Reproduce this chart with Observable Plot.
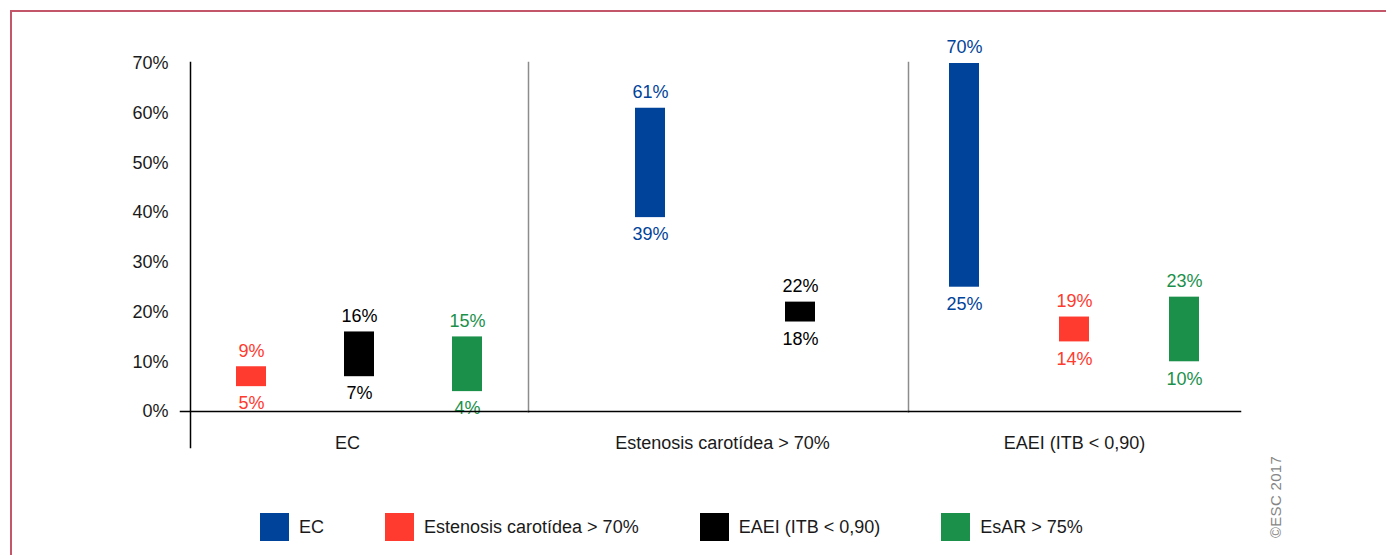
<!DOCTYPE html>
<html>
<head>
<meta charset="utf-8">
<script src="https://cdn.jsdelivr.net/npm/d3@7"></script>
<script src="https://cdn.jsdelivr.net/npm/@observablehq/plot@0.6"></script>
<style>
  body { margin: 0; background: #fff; }
  #wrap { position: relative; width: 1386px; height: 555px; overflow: hidden;
    font-family: "Liberation Sans", Arial, sans-serif; color: #1a1a1a; }
  #border { position: absolute; left: 10px; top: 10px; width: 1400px; height: 600px;
    border-top: 2px solid #c4566a; border-left: 2px solid #c4566a; }
  .panel { position: absolute; top: 0; }
  #legend { position: absolute; top: 513px; left: 260px; display: flex; align-items: center; gap: 61px; font-size: 18px; }
  .item { display: flex; align-items: center; }
  .sw { width: 29px; height: 28px; margin-right: 10px; }
  #copy { position: absolute; left: 1275px; top: 497px; transform: translate(-50%, -50%) rotate(-90deg);
    white-space: nowrap; font-size: 15px; color: #858585; letter-spacing: 0.3px; }
</style>
</head>
<body>
<div id="wrap">
  <div id="border"></div>
  <div id="legend"></div>
  <div id="copy">©ESC 2017</div>
</div>
<script>
// ---- data ----
const groups = ["EC", "Estenosis carotídea > 70%", "EAEI (ITB < 0,90)"];
const series = ["EC", "Estenosis carotídea > 70%", "EAEI (ITB < 0,90)", "EsAR > 75%"];
const colors = ["#00439a", "#ff3a2e", "#000000", "#1a904a"];
// ranges per group, one entry per series (null = not shown)
const lowEC   = [null, 5, 7, 4];
const highEC  = [null, 9, 16, 15];
const lowEst  = [39, null, 18, null];
const highEst = [61, null, 22, null];
const lowEAEI = [25, 14, null, 10];
const highEAEI= [70, 19, null, 23];
const yTicks = [0, 10, 20, 30, 40, 50, 60, 70];

const lows = [lowEC, lowEst, lowEAEI];
const highs = [highEC, highEst, highEAEI];

// ---- layout of the three panels ----
const layouts = [
  {left: 0,   width: 528, marginLeft: 190, paddingInner: 0.7235, paddingOuter: 0.42,  align: 0.5,   labelDx: -12},
  {left: 528, width: 380, marginLeft: 0,   paddingInner: 0.8013, paddingOuter: 0.659, align: 0.533, labelDx: 4},
  {left: 908, width: 332, marginLeft: 0,   paddingInner: 0.7285, paddingOuter: 0.3665, align: 0.5,  labelDx: 0}
];

const FONT = '"Liberation Sans", Arial, sans-serif';
const wrap = document.getElementById("wrap");
const colorScale = {domain: series, range: colors};

groups.forEach((g, gi) => {
  const rows = series.map((s, si) => ({series: s, low: lows[gi][si], high: highs[gi][si]}))
                     .filter(d => d.low != null);
  const L = layouts[gi];
  const first = gi === 0;
  const marks = [
    Plot.barY(rows, {x: "series", y1: "low", y2: "high", fill: "series"}),
    Plot.text(rows, {x: "series", y: "high", text: d => d.high + "%", dy: -16, fill: "series"}),
    Plot.text(rows, {x: "series", y: "low", text: d => d.low + "%", dy: 17, fill: "series"}),
    Plot.text([g], {frameAnchor: "bottom", lineAnchor: "middle", dy: 32, dx: L.labelDx, text: d => d, fill: "#1a1a1a"})
  ];
  if (first) {
    marks.push(Plot.frame({anchor: "left", stroke: "#000", strokeWidth: 1.5, insetTop: -1, insetBottom: -36}));
    marks.push(Plot.frame({anchor: "bottom", stroke: "#000", strokeWidth: 1.5, insetLeft: -10}));
  } else {
    marks.push(Plot.frame({anchor: "left", stroke: "#8c8c8c", strokeWidth: 1.5, insetTop: -1}));
    marks.push(Plot.frame({anchor: "bottom", stroke: "#000", strokeWidth: 1.5}));
  }
  const chart = Plot.plot({
    width: L.width,
    height: 460,
    marginLeft: L.marginLeft,
    marginRight: 0,
    marginTop: 63,
    marginBottom: 49,
    style: {fontFamily: FONT, fontSize: "18px", background: "transparent", color: "#1a1a1a", overflow: "visible"},
    x: {domain: rows.map(d => d.series), paddingInner: L.paddingInner, paddingOuter: L.paddingOuter, align: L.align, axis: null},
    y: first
      ? {domain: [0, 70], ticks: yTicks, tickFormat: d => d + "%", tickSize: 0, tickPadding: 22, label: null}
      : {domain: [0, 70], axis: null},
    color: colorScale,
    marks
  });
  chart.classList.add("panel");
  chart.style.left = L.left + "px";
  wrap.appendChild(chart);
});

// ---- legend ----
const legend = document.getElementById("legend");
series.forEach((s, i) => {
  const item = document.createElement("div");
  item.className = "item";
  const sw = document.createElement("div");
  sw.className = "sw";
  sw.style.background = colors[i];
  const t = document.createElement("span");
  t.textContent = s;
  item.appendChild(sw);
  item.appendChild(t);
  legend.appendChild(item);
});
</script>
</body>
</html>
